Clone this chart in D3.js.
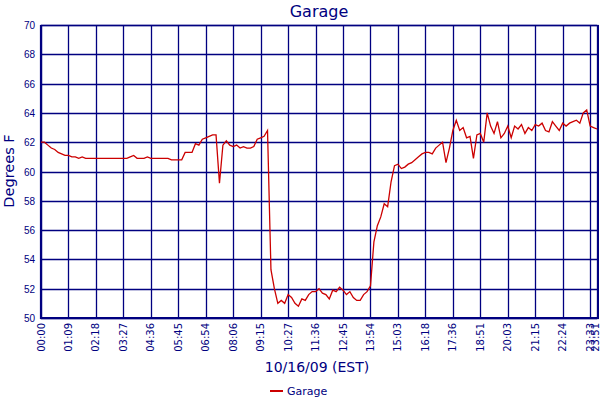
<!DOCTYPE html>
<html><head><meta charset="utf-8">
<script src="https://cdn.jsdelivr.net/npm/d3@7"></script>
<style>
html,body{margin:0;padding:0;background:#fff;}
text{font-family:"DejaVu Sans",Verdana,sans-serif;fill:#000080;}
</style></head>
<body><svg id="c" width="600" height="400"></svg>
<script>
const title = "Garage";
const xTitle = "10/16/09 (EST)";
const yTitle = "Degrees F";
const seriesName = "Garage";
const timeLabels = ["00:00","01:09","02:18","03:27","04:36","05:45","06:54","08:06","09:15","10:27","11:36","12:45","13:54","15:03","16:18","17:36","18:51","20:03","21:15","22:24","23:33","23:51"];
const yTicks = [50,52,54,56,58,60,62,64,66,68,70];
const temps = [
62.0,62.0,61.8,61.6,61.5,61.3,61.2,61.1,61.1,61.0,
61.0,60.9,61.0,60.9,60.9,60.9,60.9,60.9,60.9,60.9,
60.9,60.9,60.9,60.9,60.9,60.9,61.0,61.1,60.9,60.9,
60.9,61.0,60.9,60.9,60.9,60.9,60.9,60.9,60.8,60.8,
60.8,60.8,61.3,61.3,61.3,61.9,61.8,62.2,62.3,62.4,
62.5,62.5,59.2,61.8,62.1,61.8,61.7,61.8,61.6,61.7,
61.6,61.6,61.7,62.2,62.3,62.4,62.8,53.3,52.0,51.0,
51.2,51.0,51.6,51.4,51.0,50.8,51.3,51.2,51.6,51.8,
51.8,52.0,51.7,51.6,51.3,51.9,51.8,52.1,51.9,51.6,
51.8,51.4,51.2,51.2,51.6,51.8,52.2,55.2,56.3,56.9,
57.8,57.6,59.3,60.4,60.5,60.2,60.3,60.5,60.6,60.8,
61.0,61.2,61.3,61.3,61.2,61.6,61.8,62.0,60.6,61.6,
62.8,63.5,62.8,63.0,62.3,62.4,60.9,62.5,62.6,62.0,
64.0,63.1,62.6,63.4,62.3,62.6,63.1,62.3,63.1,62.9,
63.2,62.6,63.0,62.8,63.2,63.1,63.3,62.8,62.7,63.4,
63.1,62.8,63.3,63.1,63.3,63.4,63.5,63.3,64.0,64.2,
63.1,63.0,62.9
];
const pointsPerLabel = 8;

const svg = d3.select("#c");
const m = {left:41, right:597, top:25, bottom:318};
const N = temps.length;
const x = d3.scaleLinear().domain([0, N-1]).range([m.left, m.right]);
const y = d3.scaleLinear().domain([50,70]).range([m.bottom, m.top]);
const tickIdx = timeLabels.map((t,i)=> i < timeLabels.length-1 ? i*pointsPerLabel : N-1);
const navy = "#000080";

// grid
svg.append("g").selectAll("line.h").data(yTicks).join("line")
  .attr("x1", m.left).attr("x2", m.right)
  .attr("y1", d=>Math.round(y(d))+0.5).attr("y2", d=>Math.round(y(d))+0.5)
  .attr("stroke", navy).attr("stroke-width",1.3);
svg.append("g").selectAll("line.v").data(tickIdx).join("line")
  .attr("x1", d=>Math.round(x(d))+0.5).attr("x2", d=>Math.round(x(d))+0.5)
  .attr("y1", m.top).attr("y2", m.bottom)
  .attr("stroke", navy).attr("stroke-width",1.3);
// frame
svg.append("rect").attr("x", m.left).attr("y", m.top+0.5)
  .attr("width", m.right-m.left+1).attr("height", m.bottom-m.top)
  .attr("fill","none").attr("stroke",navy).attr("stroke-width",1.3);
svg.append("line").attr("x1",m.left).attr("x2",m.left).attr("y1",m.top).attr("y2",m.bottom+1)
  .attr("stroke",navy).attr("stroke-width",2.2);
svg.append("line").attr("x1",m.right+1).attr("x2",m.right+1).attr("y1",m.top).attr("y2",m.bottom+1)
  .attr("stroke",navy).attr("stroke-width",2);
svg.append("line").attr("x1",m.left).attr("x2",m.right+1).attr("y1",m.bottom).attr("y2",m.bottom)
  .attr("stroke",navy).attr("stroke-width",2.2);

// y labels
svg.append("g").selectAll("text").data(yTicks).join("text")
  .attr("x", 35).attr("y", d=>y(d)+4)
  .attr("text-anchor","end").style("font-size","10px")
  .style("font-family","'Liberation Sans',Arial,sans-serif")
  .text(d=>d);
// x labels rotated
svg.append("g").selectAll("text").data(tickIdx).join("text")
  .attr("transform", d=>`translate(${Math.min(x(d)+3.5, 599)},${m.bottom+5}) rotate(-90)`)
  .attr("text-anchor","end").style("font-size","10px")
  .text((d,i)=>timeLabels[i]);

// line
svg.append("path").datum(temps)
  .attr("d", d3.line().x((d,i)=>x(i)).y(d=>y(d)))
  .attr("fill","none").attr("stroke","#cc0000").attr("stroke-width",1.3);

// titles
svg.append("text").attr("x", 319).attr("y", 17).attr("text-anchor","middle")
  .style("font-size","16px").text(title);
svg.append("text").attr("x", 317).attr("y", 372).attr("text-anchor","middle")
  .style("font-size","14px").text(xTitle);
svg.append("text").attr("transform","translate(14,171) rotate(-90)").attr("text-anchor","middle")
  .style("font-size","14.5px").text(yTitle);

// legend
svg.append("line").attr("x1",270).attr("x2",283).attr("y1",391).attr("y2",391)
  .attr("stroke","#cc0000").attr("stroke-width",2);
svg.append("text").attr("x",287).attr("y",395).style("font-size","11px").text(seriesName);
</script></body></html>
